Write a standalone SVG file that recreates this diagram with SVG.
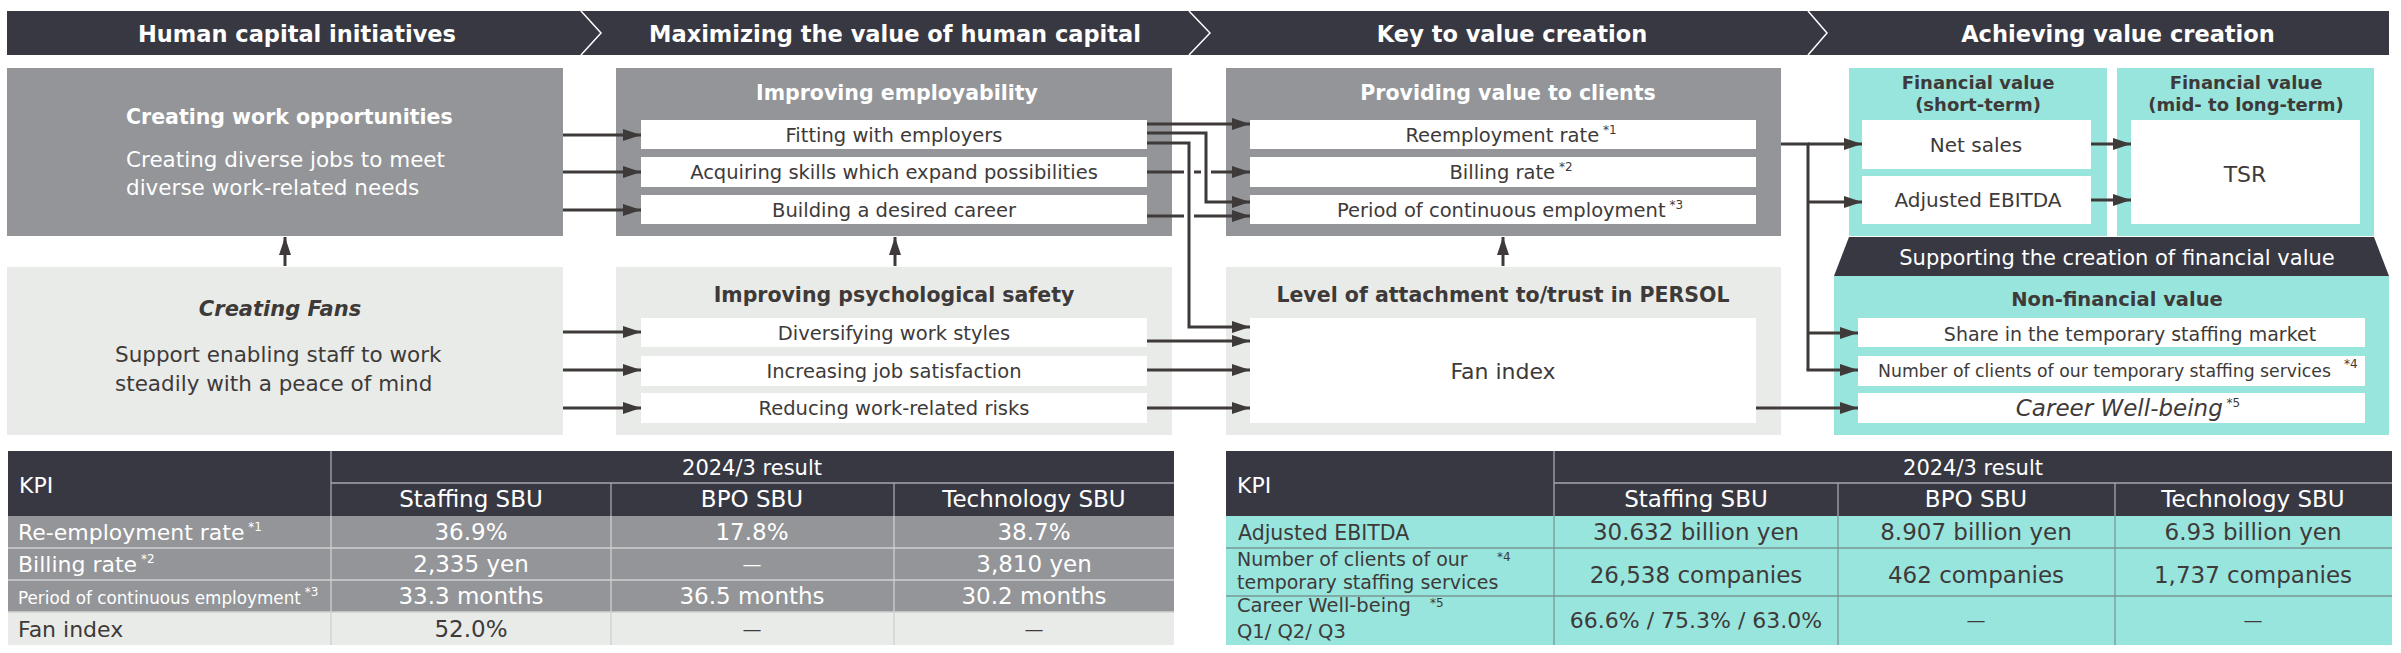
<svg xmlns="http://www.w3.org/2000/svg" width="2401" height="653" viewBox="0 0 2401 653">
<defs>
<marker id="ah" markerUnits="userSpaceOnUse" markerWidth="18" markerHeight="12" refX="18" refY="6" orient="auto">
<path d="M0,0 L18,6 L0,12 z" fill="#3e3a39"/>
</marker>
<style>
text{font-family:"DejaVu Sans",sans-serif}
.w{fill:#fff}
.d{fill:#3e3a39}
.b{font-weight:700}
.it{font-style:italic}
.m{text-anchor:middle}
.hd{font-size:22.5px;font-weight:700;fill:#fff;text-anchor:middle}
.ttl{font-size:20.5px;font-weight:700;text-anchor:middle}
.sub{font-size:19.5px;fill:#3e3a39;text-anchor:middle}
.gray{fill:#939598}
.light{fill:#e9ebe8}
.teal{fill:#98e5de}
.dark{fill:#383843}
.white{fill:#fff}
.con{fill:none;stroke:#3e3a39;stroke-width:3}
.arr{marker-end:url(#ah)}
.tl{stroke:#a6a6ad;stroke-width:1.3}
.tr{stroke:#cfd0d2;stroke-width:1.3}
.tt{stroke:#7a9794;stroke-width:1.3}
.th{font-size:23px;fill:#fff;text-anchor:middle}
.tv{font-size:23px;text-anchor:middle}
.tk{font-size:22px}
.sp{font-size:12px}
</style>
</defs>

<g id="header">
<rect class="dark" x="7" y="11" width="2382" height="44"/>
<polyline points="581,11 601,33 581,55" fill="none" stroke="#fff" stroke-width="1.5"/>
<polyline points="1189,11 1210,33 1189,55" fill="none" stroke="#fff" stroke-width="1.5"/>
<polyline points="1808,11 1827,33 1808,55" fill="none" stroke="#fff" stroke-width="1.5"/>
<text class="hd" x="297" y="42">Human capital initiatives</text>
<text class="hd" x="895" y="42">Maximizing the value of human capital</text>
<text class="hd" x="1512" y="42">Key to value creation</text>
<text class="hd" x="2118" y="42">Achieving value creation</text>
</g>

<g id="creating-work-opportunities">
<rect class="gray" x="7" y="68" width="556" height="168"/>
<text class="w b" x="126" y="124" font-size="20.5">Creating work opportunities</text>
<text class="w" x="126" y="167" font-size="21.5">Creating diverse jobs to meet</text>
<text class="w" x="126" y="195" font-size="21.5">diverse work-related needs</text>
</g>

<g id="creating-fans">
<rect class="light" x="7" y="267" width="556" height="168"/>
<text class="d b it m" x="280" y="316" font-size="21">Creating Fans</text>
<text class="d" x="115" y="362" font-size="21.5">Support enabling staff to work</text>
<text class="d" x="115" y="391" font-size="21.5">steadily with a peace of mind</text>
</g>

<g id="improving-employability">
<rect class="gray" x="616" y="68" width="556" height="168"/>
<text class="ttl w" x="897" y="100">Improving employability</text>
<rect class="white" x="641" y="120" width="506" height="29"/>
<rect class="white" x="641" y="157" width="506" height="30"/>
<rect class="white" x="641" y="195" width="506" height="29"/>
<text class="sub" x="894" y="142">Fitting with employers</text>
<text class="sub" x="894" y="179">Acquiring skills which expand possibilities</text>
<text class="sub" x="894" y="217">Building a desired career</text>
</g>

<g id="improving-psychological-safety">
<rect class="light" x="616" y="267" width="556" height="168"/>
<text class="ttl d" x="894" y="302">Improving psychological safety</text>
<rect class="white" x="641" y="318" width="506" height="29"/>
<rect class="white" x="641" y="356" width="506" height="30"/>
<rect class="white" x="641" y="393" width="506" height="30"/>
<text class="sub" x="894" y="340">Diversifying work styles</text>
<text class="sub" x="894" y="378">Increasing job satisfaction</text>
<text class="sub" x="894" y="415">Reducing work-related risks</text>
</g>

<g id="providing-value">
<rect class="gray" x="1226" y="68" width="555" height="168"/>
<text class="ttl w" x="1508" y="100">Providing value to clients</text>
<rect class="white" x="1250" y="120" width="506" height="29"/>
<rect class="white" x="1250" y="157" width="506" height="30"/>
<rect class="white" x="1250" y="195" width="506" height="29"/>
<text class="sub" x="1511" y="142">Reemployment rate<tspan class="sp" dy="-8"> *1</tspan></text>
<text class="sub" x="1511" y="179">Billing rate<tspan class="sp" dy="-8"> *2</tspan></text>
<text class="sub" x="1510" y="217">Period of continuous employment<tspan class="sp" dy="-8"> *3</tspan></text>
</g>

<g id="level-of-attachment">
<rect class="light" x="1226" y="267" width="555" height="168"/>
<text class="ttl d" x="1503" y="302">Level of attachment to/trust in PERSOL</text>
<rect class="white" x="1250" y="318" width="506" height="105"/>
<text class="d m" x="1503" y="379" font-size="22">Fan index</text>
</g>

<g id="financial-short">
<rect class="teal" x="1849" y="68" width="258" height="168"/>
<text class="d b m" x="1978" y="89" font-size="18">Financial value</text>
<text class="d b m" x="1978" y="111" font-size="18">(short-term)</text>
<rect class="white" x="1862" y="120" width="229" height="49"/>
<rect class="white" x="1862" y="176" width="229" height="48"/>
<text class="d m" x="1976" y="152" font-size="20">Net sales</text>
<text class="d m" x="1978" y="207" font-size="20">Adjusted EBITDA</text>
</g>

<g id="financial-mid-long">
<rect class="teal" x="2117" y="68" width="257" height="168"/>
<text class="d b m" x="2246" y="89" font-size="18">Financial value</text>
<text class="d b m" x="2246" y="111" font-size="18">(mid- to long-term)</text>
<rect class="white" x="2131" y="120" width="229" height="104"/>
<text class="d m" x="2245" y="182" font-size="22">TSR</text>
</g>

<g id="non-financial">
<polygon class="dark" points="1849,237 2374,237 2389,276 1834,276"/>
<text class="w m" x="2117" y="265" font-size="21">Supporting the creation of financial value</text>
<rect class="teal" x="1834" y="276" width="555" height="159"/>
<text class="d b m" x="2117" y="306" font-size="19.5">Non-financial value</text>
<rect class="white" x="1858" y="318" width="507" height="29"/>
<rect class="white" x="1858" y="356" width="507" height="30"/>
<rect class="white" x="1858" y="393" width="507" height="30"/>
<text class="d m" x="2130" y="341" font-size="19">Share in the temporary staffing market</text>
<text class="d" x="1878" y="377" font-size="17.3">Number of clients of our temporary staffing services</text>
<text class="d sp" x="2344" y="368">*4</text>
<text class="d it m" x="2128" y="416" font-size="23">Career Well-being<tspan class="sp" font-style="normal" dy="-9"> *5</tspan></text>
</g>

<g id="connectors">
<line class="con arr" x1="563" y1="135" x2="641" y2="135"/>
<line class="con arr" x1="563" y1="172" x2="641" y2="172"/>
<line class="con arr" x1="563" y1="210" x2="641" y2="210"/>
<line class="con arr" x1="563" y1="332" x2="641" y2="332"/>
<line class="con arr" x1="563" y1="370" x2="641" y2="370"/>
<line class="con arr" x1="563" y1="408" x2="641" y2="408"/>
<line class="con arr" x1="285" y1="266" x2="285" y2="237"/>
<line class="con arr" x1="895" y1="266" x2="895" y2="237"/>
<line class="con arr" x1="1503" y1="266" x2="1503" y2="237"/>
<line class="con arr" x1="1147" y1="124" x2="1250" y2="124"/>
<path class="con arr" d="M1147,133 H1206 V202 H1250"/>
<path class="con arr" d="M1147,143 H1189 V327 H1250"/>
<path class="con" d="M1147,172 H1184 M1194,172 H1201"/>
<line class="con arr" x1="1211" y1="172" x2="1250" y2="172"/>
<path class="con" d="M1147,216 H1184"/>
<line class="con arr" x1="1194" y1="216" x2="1250" y2="216"/>
<line class="con arr" x1="1147" y1="341" x2="1250" y2="341"/>
<line class="con arr" x1="1147" y1="370" x2="1250" y2="370"/>
<line class="con arr" x1="1147" y1="408" x2="1250" y2="408"/>
<path class="con" d="M1781,144 H1808 V370"/>
<line class="con arr" x1="1808" y1="144" x2="1862" y2="144"/>
<line class="con arr" x1="1808" y1="202" x2="1862" y2="202"/>
<line class="con arr" x1="1808" y1="333" x2="1858" y2="333"/>
<line class="con arr" x1="1806.5" y1="370" x2="1858" y2="370"/>
<line class="con arr" x1="1756" y1="408" x2="1858" y2="408"/>
<line class="con arr" x1="2091" y1="144" x2="2131" y2="144"/>
<line class="con arr" x1="2091" y1="200" x2="2131" y2="200"/>
</g>

<g id="kpi-table-1">
<rect class="dark" x="8" y="451" width="1166" height="65"/>
<rect class="gray" x="8" y="516" width="1166" height="96"/>
<rect class="light" x="8" y="612" width="1166" height="33"/>
<line class="tl" x1="331" y1="451" x2="331" y2="516"/>
<line class="tl" x1="331" y1="483" x2="1174" y2="483"/>
<line class="tl" x1="611" y1="483" x2="611" y2="516"/>
<line class="tl" x1="894" y1="483" x2="894" y2="516"/>
<line class="tr" x1="331" y1="516" x2="331" y2="645"/>
<line class="tr" x1="611" y1="516" x2="611" y2="645"/>
<line class="tr" x1="894" y1="516" x2="894" y2="645"/>
<line class="tr" x1="8" y1="548" x2="1174" y2="548"/>
<line class="tr" x1="8" y1="580" x2="1174" y2="580"/>
<line class="tr" x1="8" y1="612" x2="1174" y2="612"/>
<text class="w tk" x="19" y="493">KPI</text>
<text class="w m" x="752" y="475" font-size="21">2024/3 result</text>
<text class="th" x="471" y="507">Staffing SBU</text>
<text class="th" x="752" y="507">BPO SBU</text>
<text class="th" x="1034" y="507">Technology SBU</text>
<text class="w tk" x="18" y="540">Re-employment rate<tspan class="sp" dy="-9"> *1</tspan></text>
<text class="w tk" x="18" y="572">Billing rate<tspan class="sp" dy="-9"> *2</tspan></text>
<text class="w" x="18" y="604" font-size="16.8">Period of continuous employment<tspan class="sp" dy="-8"> *3</tspan></text>
<text class="d tk" x="18" y="637">Fan index</text>
<text class="tv w" x="471" y="540">36.9%</text>
<text class="tv w" x="752" y="540">17.8%</text>
<text class="tv w" x="1034" y="540">38.7%</text>
<text class="tv w" x="471" y="572">2,335 yen</text>
<text class="w m" x="752" y="571" font-size="19">—</text>
<text class="tv w" x="1034" y="572">3,810 yen</text>
<text class="tv w" x="471" y="604">33.3 months</text>
<text class="tv w" x="752" y="604">36.5 months</text>
<text class="tv w" x="1034" y="604">30.2 months</text>
<text class="tv d" x="471" y="637">52.0%</text>
<text class="d m" x="752" y="636" font-size="19">—</text>
<text class="d m" x="1034" y="636" font-size="19">—</text>
</g>

<g id="kpi-table-2">
<rect class="dark" x="1226" y="451" width="1166" height="65"/>
<rect class="teal" x="1226" y="516" width="1166" height="129"/>
<line class="tl" x1="1554" y1="451" x2="1554" y2="516"/>
<line class="tl" x1="1554" y1="483" x2="2392" y2="483"/>
<line class="tl" x1="1838" y1="483" x2="1838" y2="516"/>
<line class="tl" x1="2115" y1="483" x2="2115" y2="516"/>
<line class="tt" x1="1554" y1="516" x2="1554" y2="645"/>
<line class="tt" x1="1838" y1="516" x2="1838" y2="645"/>
<line class="tt" x1="2115" y1="516" x2="2115" y2="645"/>
<line class="tt" x1="1226" y1="548" x2="2392" y2="548"/>
<line class="tt" x1="1226" y1="596" x2="2392" y2="596"/>
<text class="w tk" x="1237" y="493">KPI</text>
<text class="w m" x="1973" y="475" font-size="21">2024/3 result</text>
<text class="th" x="1696" y="507">Staffing SBU</text>
<text class="th" x="1976" y="507">BPO SBU</text>
<text class="th" x="2253" y="507">Technology SBU</text>
<text class="d" x="1238" y="540" font-size="20.5">Adjusted EBITDA</text>
<text class="d" x="1237" y="566" font-size="19">Number of clients of our</text>
<text class="d sp" x="1497" y="561">*4</text>
<text class="d" x="1237" y="589" font-size="19">temporary staffing services</text>
<text class="d" x="1237" y="612" font-size="19.5">Career Well-being</text>
<text class="d sp" x="1430" y="607">*5</text>
<text class="d" x="1237" y="638" font-size="19.5">Q1/ Q2/ Q3</text>
<text class="tv d" x="1696" y="540">30.632 billion yen</text>
<text class="tv d" x="1976" y="540">8.907 billion yen</text>
<text class="tv d" x="2253" y="540">6.93 billion yen</text>
<text class="tv d" x="1696" y="583">26,538 companies</text>
<text class="tv d" x="1976" y="583">462 companies</text>
<text class="tv d" x="2253" y="583">1,737 companies</text>
<text class="d m" x="1696" y="628" font-size="22">66.6% / 75.3% / 63.0%</text>
<text class="d m" x="1976" y="627" font-size="19">—</text>
<text class="d m" x="2253" y="627" font-size="19">—</text>
</g>
</svg>
